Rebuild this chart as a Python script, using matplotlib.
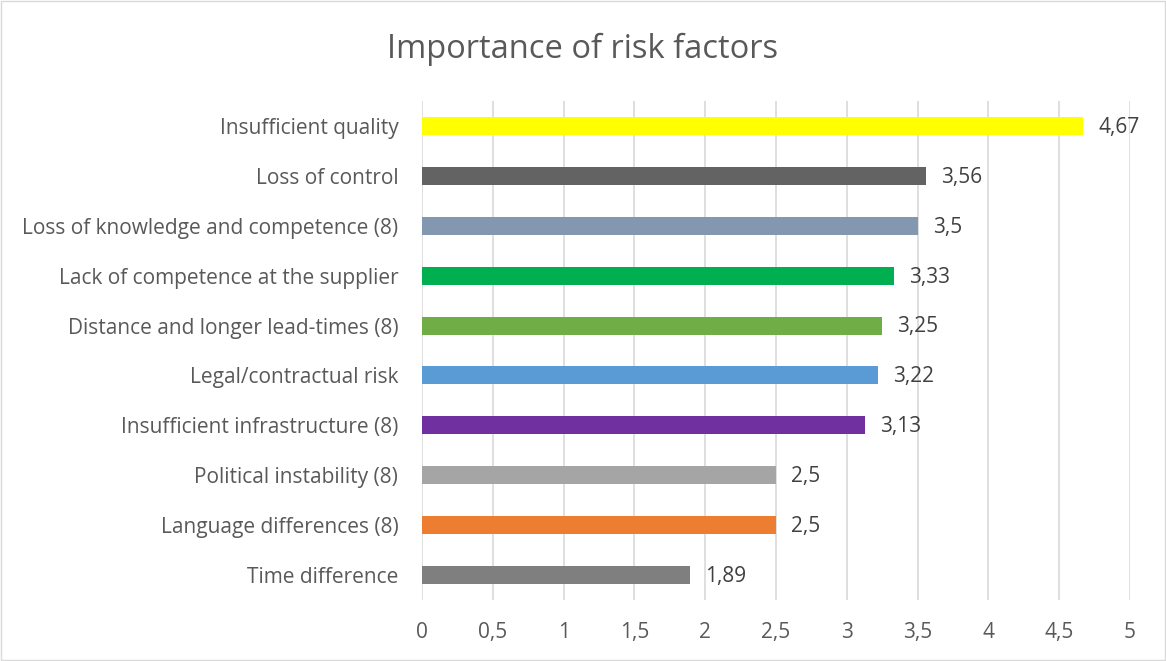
import matplotlib
matplotlib.use("Agg")
import matplotlib.pyplot as plt
from matplotlib.patches import Rectangle

categories = [
    "Insufficient quality",
    "Loss of control",
    "Loss of knowledge and competence (8)",
    "Lack of competence at the supplier",
    "Distance and longer lead-times (8)",
    "Legal/contractual risk",
    "Insufficient infrastructure (8)",
    "Political instability (8)",
    "Language differences (8)",
    "Time difference",
]
values = [4.67, 3.56, 3.5, 3.33, 3.25, 3.22, 3.13, 2.5, 2.5, 1.89]
value_labels = ["4,67", "3,56", "3,5", "3,33", "3,25", "3,22", "3,13", "2,5", "2,5", "1,89"]
colors = ["#ffff00", "#636363", "#8497b0", "#00b050", "#70ad47",
          "#5b9bd5", "#7030a0", "#a5a5a5", "#ed7d31", "#7f7f7f"]
xticks = [0, 0.5, 1, 1.5, 2, 2.5, 3, 3.5, 4, 4.5, 5]
xtick_labels = ["0", "0,5", "1", "1,5", "2", "2,5", "3", "3,5", "4", "4,5", "5"]
title = "Importance of risk factors"

plt.rcParams['font.family'] = ['Open Sans', 'DejaVu Sans']
txt = "#595959"
fs = 15

fig = plt.figure(figsize=(11.66, 6.61), dpi=100)
ax = fig.add_axes([0.3619, 0.0923, 0.6072, 0.7549])

y = list(range(len(categories)))
ax.barh(y, values, height=0.36, color=colors, zorder=3)
for yi, v, lab in zip(y, values, value_labels):
    ax.annotate(lab, (v, yi), xytext=(11, -1), textcoords="offset points",
                va="center", ha="left", fontsize=fs, color="#404040")

ax.set_xlim(0, 5)
ax.set_ylim(len(categories) - 0.5, -0.5)
ax.set_yticks(y)
ax.set_yticklabels(categories, fontsize=fs, color=txt)
ax.set_xticks(xticks)
ax.set_xticklabels(xtick_labels, fontsize=fs, color=txt)
ax.tick_params(axis="both", length=0)
ax.tick_params(axis="y", pad=17)
ax.tick_params(axis="x", pad=16)
ax.grid(axis="x", color="#d9d9d9", linewidth=1.2, zorder=0)
for s in ax.spines.values():
    s.set_visible(False)

fig.text(0.5, 0.926, title, ha="center", va="center", fontsize=23.5, color=txt)
fig.patches.append(Rectangle((0.001, 0.001), 0.998, 0.997, transform=fig.transFigure,
                             fill=False, edgecolor="#d9d9d9", linewidth=1))

fig.savefig("out.png", dpi=100)
